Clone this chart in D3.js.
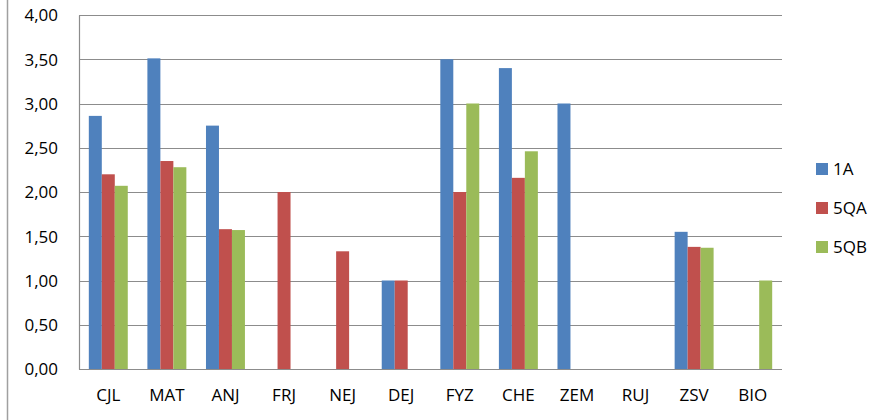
<!DOCTYPE html>
<html>
<head>
<meta charset="utf-8">
<script src="https://cdn.jsdelivr.net/npm/d3@7/dist/d3.min.js"></script>
<style>
  body { margin: 0; background: #fff; }
  text { font-family: "Open Sans", "Liberation Sans", sans-serif; fill: #000; }
</style>
</head>
<body>
<div class="chart"></div>
<script>
// subjects on the x axis
var categories = ["CJL", "MAT", "ANJ", "FRJ", "NEJ", "DEJ", "FYZ", "CHE", "ZEM", "RUJ", "ZSV", "BIO"];

// one array per class, null = no bar
var s1A  = [2.86, 3.51, 2.75, null, null, 1.00, 3.50, 3.40, 3.00, null, 1.55, null];
var s5QA = [2.20, 2.35, 1.58, 2.00, 1.33, 1.00, 2.00, 2.16, null, null, 1.38, null];
var s5QB = [2.07, 2.28, 1.57, null, null, null, 3.00, 2.46, null, null, 1.37, 1.00];

var seriesNames = ["1A", "5QA", "5QB"];
var seriesColors = ["#4F81BD", "#C0504D", "#9BBB59"];
var yTicks = [0, 0.5, 1, 1.5, 2, 2.5, 3, 3.5, 4];

var width = 876, height = 420;
var margin = {left: 79, top: 15, right: 94, bottom: 51};

var svg = d3.select(".chart").append("svg")
  .attr("width", width)
  .attr("height", height);

// outer chart frame edge
svg.append("line")
  .attr("x1", 7.5).attr("x2", 7.5)
  .attr("y1", 0).attr("y2", height)
  .attr("stroke", "#a0a0a0")
  .attr("stroke-width", 1.5);

var x = d3.scaleBand()
  .domain(categories)
  .range([margin.left, width - margin.right])
  .paddingInner(0.335)
  .paddingOuter(0.1675);

var x1 = d3.scaleBand()
  .domain(seriesNames)
  .range([0, x.bandwidth()]);

var y = d3.scaleLinear()
  .domain([0, 4])
  .range([height - margin.bottom, margin.top]);

// gridlines
svg.append("g").selectAll("line").data(yTicks).enter().append("line")
  .attr("x1", margin.left)
  .attr("x2", width - margin.right)
  .attr("y1", function(d){ return Math.round(y(d)) + 0.5; })
  .attr("y2", function(d){ return Math.round(y(d)) + 0.5; })
  .attr("stroke", "#8c8c8c")
  .attr("stroke-width", 1.2);

// y labels
var yAxis = d3.axisLeft(y)
  .tickValues(yTicks)
  .tickSize(0)
  .tickPadding(21)
  .tickFormat(function(d){ return d3.format(".2f")(d).replace(".", ","); });

svg.append("g")
  .attr("transform", "translate(" + margin.left + ",0)")
  .call(yAxis)
  .call(function(g){ g.select(".domain").attr("stroke", "#8c8c8c").attr("stroke-width", 1.2); })
  .selectAll("text")
  .style("font-size", "17px")
  .attr("dy", "0.35em");

// bars
var table = [s1A, s5QA, s5QB];
var bars = [];
categories.forEach(function(c, i){
  table.forEach(function(s, k){
    if (s[i] != null) bars.push({cat: c, series: seriesNames[k], value: s[i], color: seriesColors[k]});
  });
});

svg.append("g").selectAll("rect").data(bars).enter().append("rect")
  .attr("x", function(d){ return x(d.cat) + x1(d.series); })
  .attr("width", x1.bandwidth())
  .attr("y", function(d){ return y(d.value); })
  .attr("height", function(d){ return y(0) - y(d.value); })
  .attr("fill", function(d){ return d.color; });

// x labels
var xAxis = d3.axisBottom(x).tickSize(0).tickPadding(20);
svg.append("g")
  .attr("transform", "translate(0," + y(0) + ")")
  .call(xAxis)
  .call(function(g){ g.select(".domain").remove(); })
  .selectAll("text")
  .style("font-size", "17px");

// legend
var legend = svg.append("g")
  .attr("transform", "translate(816,163)");

var item = legend.selectAll("g").data(seriesNames).enter().append("g")
  .attr("transform", function(d, i){ return "translate(0," + (i * 39) + ")"; });

item.append("rect")
  .attr("width", 12)
  .attr("height", 12)
  .attr("fill", function(d, i){ return seriesColors[i]; });

item.append("text")
  .attr("x", 17)
  .attr("y", 6)
  .attr("dy", "0.35em")
  .style("font-size", "17px")
  .text(function(d){ return d; });
</script>
</body>
</html>
